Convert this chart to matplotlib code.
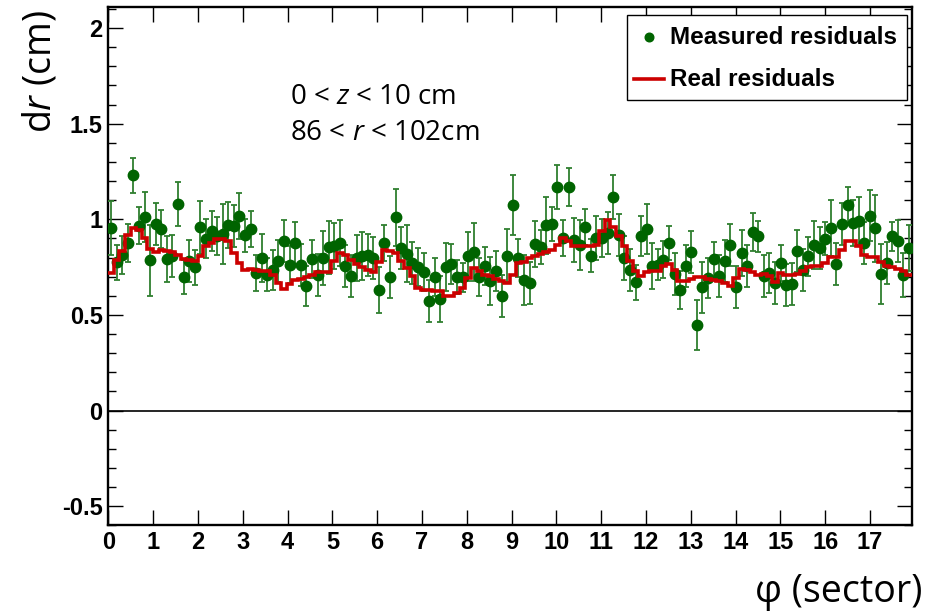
import numpy as np
import matplotlib
matplotlib.use('Agg')
import matplotlib.pyplot as plt
from matplotlib.lines import Line2D
from matplotlib.patches import Rectangle
from matplotlib.ticker import MultipleLocator

plt.rcParams['mathtext.fontset'] = 'custom'
plt.rcParams['mathtext.rm'] = 'Open Sans'
plt.rcParams['mathtext.it'] = 'Open Sans:italic'

# ---------------- data ----------------
x_max = 17.93
x_ticks = list(range(18))
y_ticks = [-0.5, 0, 0.5, 1, 1.5, 2]
y_tick_labels = ['-0.5', '0', '0.5', '1', '1.5', '2']

measured = [
    0.954, 0.775, 0.815, 0.876, 1.230, 0.967, 1.012, 0.785, 0.977, 0.949,
    0.794, 0.806, 1.081, 0.697, 0.780, 0.749, 0.958, 0.899, 0.940, 0.911,
    0.923, 0.972, 0.967, 1.019, 0.916, 0.949, 0.719, 0.798, 0.711, 0.737,
    0.784, 0.885, 0.763, 0.876, 0.763, 0.650, 0.793, 0.711, 0.798, 0.853,
    0.862, 0.876, 0.758, 0.702, 0.798, 0.806, 0.815, 0.798, 0.629, 0.876,
    0.697, 1.010, 0.850, 0.820, 0.771, 0.749, 0.723, 0.571, 0.697, 0.583,
    0.749, 0.766, 0.697, 0.697, 0.806, 0.829, 0.697, 0.754, 0.676, 0.728,
    0.597, 0.810, 1.075, 0.798, 0.681, 0.667, 0.871, 0.855, 0.968, 0.975,
    1.167, 0.902, 1.167, 0.893, 0.867, 0.958, 0.810, 0.902, 0.902, 0.928,
    1.116, 0.920, 0.798, 0.733, 0.670, 0.911, 0.949, 0.754, 0.763, 0.789,
    0.876, 0.716, 0.632, 0.754, 0.827, 0.446, 0.644, 0.693, 0.792, 0.702,
    0.780, 0.864, 0.644, 0.824, 0.754, 0.932, 0.911, 0.702, 0.719, 0.667,
    0.771, 0.658, 0.664, 0.836, 0.737, 0.806, 0.867, 0.850, 0.899, 0.954,
    0.768, 0.977, 1.075, 0.981, 0.993, 0.876, 1.019, 0.954, 0.714, 0.771,
    0.911, 0.888, 0.711, 0.850,
]

errors = [
    0.140, 0.090, 0.100, 0.100, 0.090, 0.095, 0.130, 0.185, 0.110, 0.100,
    0.120, 0.110, 0.115, 0.090, 0.110, 0.090, 0.140, 0.100, 0.105, 0.100,
    0.155, 0.120, 0.110, 0.120, 0.085, 0.095, 0.095, 0.125, 0.085, 0.105,
    0.110, 0.110, 0.095, 0.110, 0.110, 0.105, 0.100, 0.110, 0.140, 0.140,
    0.120, 0.120, 0.110, 0.110, 0.120, 0.125, 0.110, 0.110, 0.120, 0.095,
    0.110, 0.150, 0.110, 0.150, 0.110, 0.100, 0.100, 0.110, 0.100, 0.120,
    0.125, 0.105, 0.090, 0.075, 0.130, 0.150, 0.100, 0.100, 0.125, 0.105,
    0.110, 0.140, 0.155, 0.100, 0.130, 0.110, 0.120, 0.090, 0.150, 0.090,
    0.115, 0.095, 0.100, 0.115, 0.130, 0.095, 0.085, 0.115, 0.100, 0.110,
    0.115, 0.110, 0.115, 0.110, 0.090, 0.105, 0.130, 0.120, 0.080, 0.095,
    0.090, 0.110, 0.100, 0.110, 0.110, 0.130, 0.135, 0.105, 0.090, 0.110,
    0.110, 0.110, 0.110, 0.120, 0.110, 0.100, 0.080, 0.110, 0.105, 0.110,
    0.095, 0.110, 0.110, 0.110, 0.110, 0.100, 0.125, 0.110, 0.085, 0.145,
    0.110, 0.110, 0.095, 0.120, 0.125, 0.110, 0.135, 0.175, 0.155, 0.110,
    0.075, 0.110, 0.115, 0.120,
]

real = [
    0.719, 0.789, 0.832, 0.920, 0.954, 0.946, 0.902, 0.845, 0.827, 0.841,
    0.832, 0.827, 0.815, 0.792, 0.789, 0.784, 0.806, 0.858, 0.876, 0.897,
    0.897, 0.885, 0.823, 0.771, 0.737, 0.740, 0.733, 0.732, 0.728, 0.711,
    0.667, 0.638, 0.664, 0.685, 0.688, 0.700, 0.711, 0.723, 0.725, 0.725,
    0.780, 0.823, 0.815, 0.785, 0.768, 0.751, 0.733, 0.723, 0.775, 0.838,
    0.832, 0.823, 0.780, 0.745, 0.702, 0.641, 0.629, 0.629, 0.623, 0.623,
    0.597, 0.597, 0.615, 0.641, 0.693, 0.745, 0.728, 0.711, 0.702, 0.688,
    0.676, 0.665, 0.710, 0.771, 0.775, 0.798, 0.810, 0.818, 0.827, 0.841,
    0.867, 0.902, 0.885, 0.862, 0.862, 0.858, 0.858, 0.867, 0.937, 0.998,
    0.960, 0.915, 0.862, 0.780, 0.728, 0.706, 0.723, 0.732, 0.732, 0.754,
    0.768, 0.737, 0.676, 0.676, 0.688, 0.697, 0.697, 0.690, 0.685, 0.676,
    0.667, 0.653, 0.693, 0.740, 0.733, 0.723, 0.711, 0.716, 0.702, 0.671,
    0.719, 0.711, 0.711, 0.714, 0.728, 0.751, 0.754, 0.758, 0.771, 0.803,
    0.803, 0.841, 0.885, 0.885, 0.858, 0.815, 0.803, 0.803, 0.775, 0.758,
    0.749, 0.740, 0.732, 0.711,
]

# ---------------- figure ----------------
W, H = 936, 613
fig = plt.figure(figsize=(W / 100, H / 100), dpi=100)


def fx(px):
    return px / W


def fy(py):
    return 1 - py / H


ax = fig.add_axes([fx(108.3), fy(525.3), (911.7 - 108.3) / W, (525.3 - 7) / H])

n = len(measured)
edges = np.linspace(0, x_max, n + 1)
centers = 0.5 * (edges[:-1] + edges[1:])

green = '#006400'
red = '#cc0000'

ax.axhline(0, color='black', lw=1.2, zorder=1)
ax.errorbar(centers, measured, yerr=errors, fmt='o', color=green, ms=7.5,
            ecolor='#2f7f2f', elinewidth=1.3, capsize=2.2, capthick=1.3,
            zorder=3)
ax.stairs(real, edges, color=red, lw=2.6, baseline=None, zorder=4)

ax.set_xlim(0, x_max)
ax.set_ylim(-0.6, 2.11)

tick_font = dict(family='Liberation Sans', weight='bold', size=17)
ax.set_xticks(x_ticks)
ax.set_xticklabels([str(t) for t in x_ticks], fontdict=tick_font)
ax.set_yticks(y_ticks)
ax.set_yticklabels(y_tick_labels, fontdict=tick_font)
ax.yaxis.set_minor_locator(MultipleLocator(0.1))
ax.tick_params(which='major', direction='in', top=True, right=True,
               length=11, width=1.0, color='black')
ax.tick_params(which='minor', direction='in', left=True, right=True,
               length=5.5, width=1.0, color='black')
ax.tick_params(axis='x', which='minor', bottom=False, top=False)
ax.tick_params(axis='x', pad=4)
ax.tick_params(axis='y', pad=4)
for s in ax.spines.values():
    s.set_linewidth(1.7)
    s.set_color('black')

# axis titles
fig.text(fx(922), fy(592), 'φ (sector)', ha='right', va='center',
         family=['Open Sans', 'DejaVu Sans'], size=27)
fig.text(fx(40), fy(72), r'd$\mathit{r}$ (cm)', ha='center', va='center',
         rotation=90, family='Open Sans', size=27)

# annotation
fig.text(fx(290), fy(97), r'0 < $\mathit{z}$ < 10 cm', ha='left', va='center',
         family='Open Sans', size=20)
fig.text(fx(290), fy(133), r'86 < $\mathit{r}$ < 102cm', ha='left', va='center',
         family='Open Sans', size=20)

# legend (manual, ROOT style)
fig.add_artist(Rectangle((fx(627), fy(100)), 280 / W, 85 / H,
                         transform=fig.transFigure, facecolor='white',
                         edgecolor='black', lw=1.0, zorder=10))
fig.add_artist(Line2D([fx(649)], [fy(37)], marker='o', color=green, ms=6.2,
                      transform=fig.transFigure, zorder=11))
fig.add_artist(Line2D([fx(634), fx(664)], [fy(79), fy(79)], color=red, lw=2.6,
                      transform=fig.transFigure, zorder=11))
leg_font = dict(family='Liberation Sans', weight='bold', size=17.5)
fig.text(fx(670), fy(37), 'Measured residuals', ha='left', va='center',
         zorder=12, **leg_font)
fig.text(fx(670), fy(79), 'Real residuals', ha='left', va='center',
         zorder=12, **leg_font)

fig.savefig('out.png', dpi=100)
